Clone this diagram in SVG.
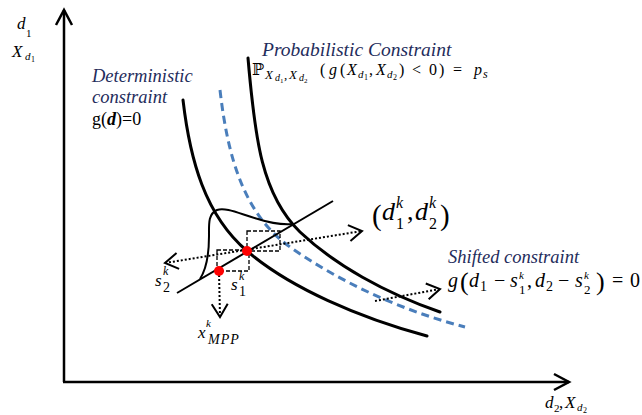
<svg xmlns="http://www.w3.org/2000/svg" width="642" height="415" viewBox="0 0 642 415">
<style>
text{font-family:"Liberation Serif","Times New Roman","DejaVu Serif",serif;fill:#000}
.lbl{font-style:italic;fill:#1f2d5c;font-size:18.5px}
.i{font-style:italic}
.curve{fill:none;stroke:#000;stroke-width:3;stroke-linecap:round}
.shift{fill:none;stroke:#4a7ebb;stroke-width:3;stroke-dasharray:8 5}
.dot{fill:none;stroke:#000;stroke-width:2;stroke-dasharray:2 2}
.box{fill:none;stroke:#000;stroke-width:1.3;stroke-dasharray:4 2}
.axis{stroke:#000;stroke-width:2.5;fill:none}
.pt{fill:#ff0000}
</style>
<defs>
<marker id="axarr" viewBox="0 0 20 20" refX="17" refY="10" markerWidth="20" markerHeight="20" markerUnits="userSpaceOnUse" orient="auto-start-reverse">
<path d="M2,2 L17,10 L2,18" fill="none" stroke="#000" stroke-width="2.5"/>
</marker>
<marker id="chev" viewBox="0 0 16 20" refX="14" refY="10" markerWidth="16" markerHeight="20" markerUnits="userSpaceOnUse" orient="auto-start-reverse">
<path d="M1,2 L14,10 L1,18" fill="none" stroke="#000" stroke-width="2"/>
</marker>
</defs>

<g id="axes">
<line class="axis" x1="64" y1="382" x2="64" y2="10" marker-end="url(#axarr)"/>
<line class="axis" x1="63" y1="382" x2="569" y2="382" marker-end="url(#axarr)"/>
</g>

<g id="deterministic-curve">
<path class="curve" d="M183,100 C190,160 205,215 247,251 C290,288 360,318 427,336"/>
</g>
<g id="probabilistic-curve">
<path class="curve" d="M248,58 C255,140 262,195 300,232 C335,265 385,293 440,312"/>
</g>
<g id="shifted-curve">
<path class="shift" d="M220,90 C228,160 245,215 290,247 C340,282 400,310 465,327"/>
</g>

<g id="pdf">
<path fill="none" stroke="#000" stroke-width="2" d="M200,279 C207,268 209,252 209,236 C209,224 208,214 217,210 C226,207 240,214 258,219 C270,223 280,225 293,224"/>
</g>

<g id="tangent">
<line x1="177" y1="293" x2="333" y2="201" stroke="#000" stroke-width="2"/>
</g>

<g id="boxes">
<rect class="box" x="217" y="250" width="32" height="21"/>
<rect class="box" x="247" y="231" width="33" height="20"/>
</g>

<g id="connectors">
<line class="dot" x1="165" y1="263" x2="362" y2="231" marker-start="url(#chev)" marker-end="url(#chev)"/>
<line class="dot" x1="219" y1="271" x2="220" y2="317" marker-end="url(#chev)"/>
<line class="dot" x1="375" y1="301" x2="440" y2="289" marker-end="url(#chev)"/>
</g>

<g id="points">
<circle class="pt" cx="219" cy="271" r="5"/>
<circle class="pt" cx="247" cy="251" r="5"/>
</g>

<g id="y-label">
<text><tspan class="i" x="17" y="29" font-size="17">d</tspan><tspan x="26" y="37" font-size="11">1</tspan></text>
<text><tspan class="i" x="12" y="57" font-size="17">X</tspan><tspan class="i" x="25" y="60" font-size="11">d</tspan><tspan x="31" y="62" font-size="8">1</tspan></text>
</g>

<g id="x-label">
<text><tspan class="i" x="545" y="408" font-size="17">d</tspan><tspan x="554" y="412" font-size="11">2</tspan><tspan x="559" y="408" font-size="17">,</tspan><tspan class="i" x="565" y="408" font-size="17">X</tspan><tspan class="i" x="577" y="411" font-size="11">d</tspan><tspan x="583" y="413" font-size="8">2</tspan></text>
</g>

<g id="deterministic-label">
<text class="lbl" x="92" y="82">Deterministic</text>
<text class="lbl" x="92" y="103">constraint</text>
<text x="92" y="125" font-size="18">g(<tspan font-weight="bold" font-style="italic">d</tspan>)=0</text>
</g>

<g id="probabilistic-label">
<text class="lbl" x="262" y="56" style="font-size:19.5px">Probabilistic Constraint</text>
<text font-size="16"><tspan x="252" y="75">ℙ</tspan><tspan class="i" x="265" y="79" font-size="13">X</tspan><tspan class="i" x="275" y="81" font-size="10">d</tspan><tspan x="280" y="83" font-size="7">1</tspan><tspan x="284" y="79" font-size="13">,</tspan><tspan class="i" x="289" y="79" font-size="13">X</tspan><tspan class="i" x="299" y="81" font-size="10">d</tspan><tspan x="304" y="83" font-size="7">2</tspan><tspan x="320" y="75">(</tspan><tspan class="i" x="329" y="75">g</tspan><tspan x="340" y="75">(</tspan><tspan class="i" x="347" y="75">X</tspan><tspan class="i" x="358" y="78" font-size="11">d</tspan><tspan x="364" y="80" font-size="8">1</tspan><tspan x="369" y="75">,</tspan><tspan class="i" x="376" y="75">X</tspan><tspan class="i" x="387" y="78" font-size="11">d</tspan><tspan x="393" y="80" font-size="8">2</tspan><tspan x="399" y="75">)</tspan><tspan x="412" y="75">&lt;</tspan><tspan x="429" y="75">0</tspan><tspan x="439" y="75">)</tspan><tspan x="453" y="75">=</tspan><tspan class="i" x="474" y="75">p</tspan><tspan class="i" x="483" y="78" font-size="12">s</tspan></text>
</g>

<g id="dk-label">
<text><tspan x="372" y="225" font-size="29">(</tspan><tspan class="i" x="382" y="220" font-size="26">d</tspan><tspan class="i" x="396" y="208" font-size="16">k</tspan><tspan x="396" y="229" font-size="16">1</tspan><tspan x="407" y="220" font-size="26">,</tspan><tspan class="i" x="415" y="220" font-size="26">d</tspan><tspan class="i" x="429" y="208" font-size="16">k</tspan><tspan x="429" y="229" font-size="16">2</tspan><tspan x="440" y="225" font-size="29">)</tspan></text>
</g>

<g id="s2-label">
<text><tspan class="i" x="155" y="286" font-size="17">s</tspan><tspan class="i" x="163" y="275" font-size="12">k</tspan><tspan x="163" y="292" font-size="14">2</tspan></text>
</g>
<g id="s1-label">
<text><tspan class="i" x="231" y="290" font-size="17">s</tspan><tspan class="i" x="239" y="280" font-size="12">k</tspan><tspan x="239" y="296" font-size="14">1</tspan></text>
</g>
<g id="xmpp-label">
<text><tspan class="i" x="198" y="338" font-size="17">x</tspan><tspan class="i" x="206" y="327" font-size="11">k</tspan><tspan class="i" x="208" y="344" font-size="14" letter-spacing="1">MPP</tspan></text>
</g>

<g id="shifted-label">
<text class="lbl" x="448" y="263">Shifted constraint</text>
<text font-size="20"><tspan class="i" x="448" y="287">g</tspan><tspan x="460" y="290" font-size="26">(</tspan><tspan class="i" x="469" y="287">d</tspan><tspan x="480" y="291" font-size="14">1</tspan><tspan x="494" y="287">−</tspan><tspan class="i" x="510" y="287">s</tspan><tspan class="i" x="519" y="279" font-size="11">k</tspan><tspan x="519" y="294" font-size="13">1</tspan><tspan x="527" y="287">,</tspan><tspan class="i" x="535" y="287">d</tspan><tspan x="546" y="291" font-size="14">2</tspan><tspan x="558" y="287">−</tspan><tspan class="i" x="575" y="287">s</tspan><tspan class="i" x="584" y="279" font-size="11">k</tspan><tspan x="584" y="294" font-size="13">2</tspan><tspan x="596" y="290" font-size="26">)</tspan><tspan x="612" y="287">=</tspan><tspan x="630" y="287">0</tspan></text>
</g>
</svg>
